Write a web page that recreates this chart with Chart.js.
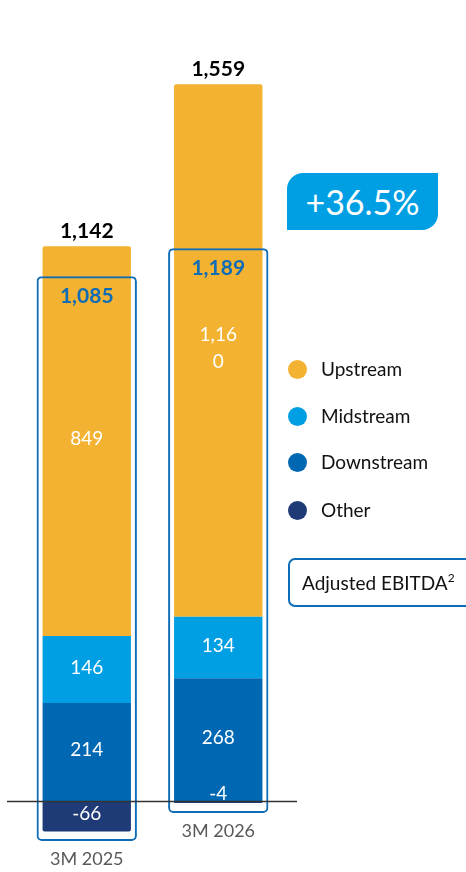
<!DOCTYPE html>
<html><head><meta charset="utf-8">
<script src="https://cdn.jsdelivr.net/npm/chart.js@4/dist/chart.umd.min.js"></script>
<style>
html,body{margin:0;padding:0;background:#fff;}
#wrap{position:relative;width:466px;height:872px;overflow:hidden;font-family:Lato,'Open Sans',sans-serif;}
#c{position:absolute;left:0;top:0;}
#badge{position:absolute;left:287px;top:173px;width:151px;height:57px;background:#009fe3;color:#fff;font-size:34px;line-height:57px;text-align:center;border-radius:16px 0 16px 0;}
.leg{position:absolute;left:288px;font-size:19px;color:#111;height:22px;line-height:22px;white-space:nowrap;}
.leg i{display:inline-block;width:19px;height:19px;border-radius:50%;vertical-align:middle;margin-right:14px;position:relative;top:-2px;}
#adj{position:absolute;left:288px;top:558px;width:190px;height:49px;border:2px solid #0e6db6;border-radius:7px;box-sizing:border-box;font-size:19px;line-height:45px;padding-left:12px;color:#111;white-space:nowrap;}
#adj sup{font-size:12px;line-height:0;vertical-align:8px;}
</style></head>
<body><div id="wrap">
<canvas id="c" width="466" height="872"></canvas>
<div id="badge"></div>
<div id="legend"></div>
<div id="adj">Adjusted EBITDA<sup>2</sup></div>
</div>
<script>
const categories = ['3M 2025', '3M 2026'];
const upstream = [849, 1160];
const midstream = [146, 134];
const downstream = [214, 268];
const other = [-66, -4];
const totals = [1142, 1559];
const adjustedEbitda = [1085, 1189];
const adjustedBoxLow = [-87, -26];
const adjustedBoxHigh = [1144, 1205];
const seriesNames = ['Upstream', 'Midstream', 'Downstream', 'Other'];
const seriesColors = ['#f3b231', '#009fe3', '#0068b3', '#1f3b77'];
const growthLabel = '+36.5%';
const boxColor = '#0e6db6';

document.getElementById('badge').textContent = growthLabel;
const legTops = [358, 405, 451, 499];
const legEl = document.getElementById('legend');
seriesNames.forEach((n, i) => {
  const d = document.createElement('div');
  d.className = 'leg';
  d.style.top = legTops[i] + 'px';
  d.innerHTML = '<i style="background:' + seriesColors[i] + '"></i>' + n;
  legEl.appendChild(d);
});

const fmt = v => v.toLocaleString('en-US');
const wrap = s => { const out = []; for (let i = 0; i < s.length; i += 4) out.push(s.slice(i, i + 4)); return out; };

const labelPlugin = {
  id: 'labels',
  afterDatasetsDraw(chart) {
    const ctx = chart.ctx;
    const y = chart.scales.y;
    const area = chart.chartArea;
    ctx.save();
    const y0 = Math.round(y.getPixelForValue(0)) + 0.5;
    ctx.strokeStyle = '#333';
    ctx.lineWidth = 1.3;
    ctx.beginPath();
    ctx.moveTo(area.left - 14, y0);
    ctx.lineTo(area.right + 13, y0);
    ctx.stroke();

    ctx.textAlign = 'center';
    for (let di = 0; di < 4; di++) {
      const meta = chart.getDatasetMeta(di);
      const data = chart.data.datasets[di].data;
      meta.data.forEach((el, i) => {
        const top = Math.min(el.y, el.base), bot = Math.max(el.y, el.base);
        const lines = wrap(fmt(data[i]));
        ctx.fillStyle = '#fff';
        ctx.font = '19px Lato';
        if (bot - top < 14) {
          ctx.textBaseline = 'bottom';
          ctx.fillText(lines[0], el.x, top + 2);
        } else {
          ctx.textBaseline = 'middle';
          const lh = 27;
          const c = (top + bot) / 2 - 2 - (lines.length - 1) * lh / 2;
          lines.forEach((l, k) => ctx.fillText(l, el.x, c + k * lh));
        }
      });
    }
    const upMeta = chart.getDatasetMeta(3);
    const boxMeta = chart.getDatasetMeta(4);
    ctx.textBaseline = 'middle';
    upMeta.data.forEach((el, i) => {
      ctx.fillStyle = '#000';
      ctx.font = 'bold 21px Lato';
      ctx.fillText(fmt(totals[i]), el.x, el.y - 15);
    });
    boxMeta.data.forEach((el, i) => {
      ctx.fillStyle = boxColor;
      ctx.font = 'bold 21px Lato';
      ctx.fillText(fmt(adjustedEbitda[i]), el.x, el.y + 20);
      ctx.fillStyle = '#595959';
      ctx.font = '18px Lato';
      ctx.fillText(categories[i], el.x, el.base + 18);
    });
    ctx.restore();
  }
};

const stackDs = (label, data, color) => ({
  label, data, backgroundColor: color, borderWidth: 0, borderRadius: 2,
  stack: 's', grouped: false, barPercentage: 0.672, categoryPercentage: 1, order: 1
});

new Chart(document.getElementById('c'), {
  type: 'bar',
  data: {
    labels: categories,
    datasets: [
      stackDs(seriesNames[3], other, seriesColors[3]),
      stackDs(seriesNames[2], downstream, seriesColors[2]),
      stackDs(seriesNames[1], midstream, seriesColors[1]),
      stackDs(seriesNames[0], upstream, seriesColors[0]),
      {
        label: 'Adjusted EBITDA',
        data: adjustedBoxLow.map((lo, i) => [lo, adjustedBoxHigh[i]]),
        backgroundColor: 'rgba(0,0,0,0)', borderColor: boxColor, borderWidth: 2,
        borderRadius: 5, borderSkipped: false, stack: 'box', grouped: false,
        barPercentage: 0.763, categoryPercentage: 1, order: 0
      }
    ]
  },
  options: {
    responsive: false, animation: false,
    layout: { padding: { left: 21, right: 182, top: 21, bottom: 25 } },
    plugins: { legend: { display: false }, tooltip: { enabled: false } },
    scales: {
      x: { display: false, stacked: true, offset: true },
      y: { display: false, stacked: true, min: -100, max: 1700 }
    }
  },
  plugins: [labelPlugin]
});
</script>
</body></html>
